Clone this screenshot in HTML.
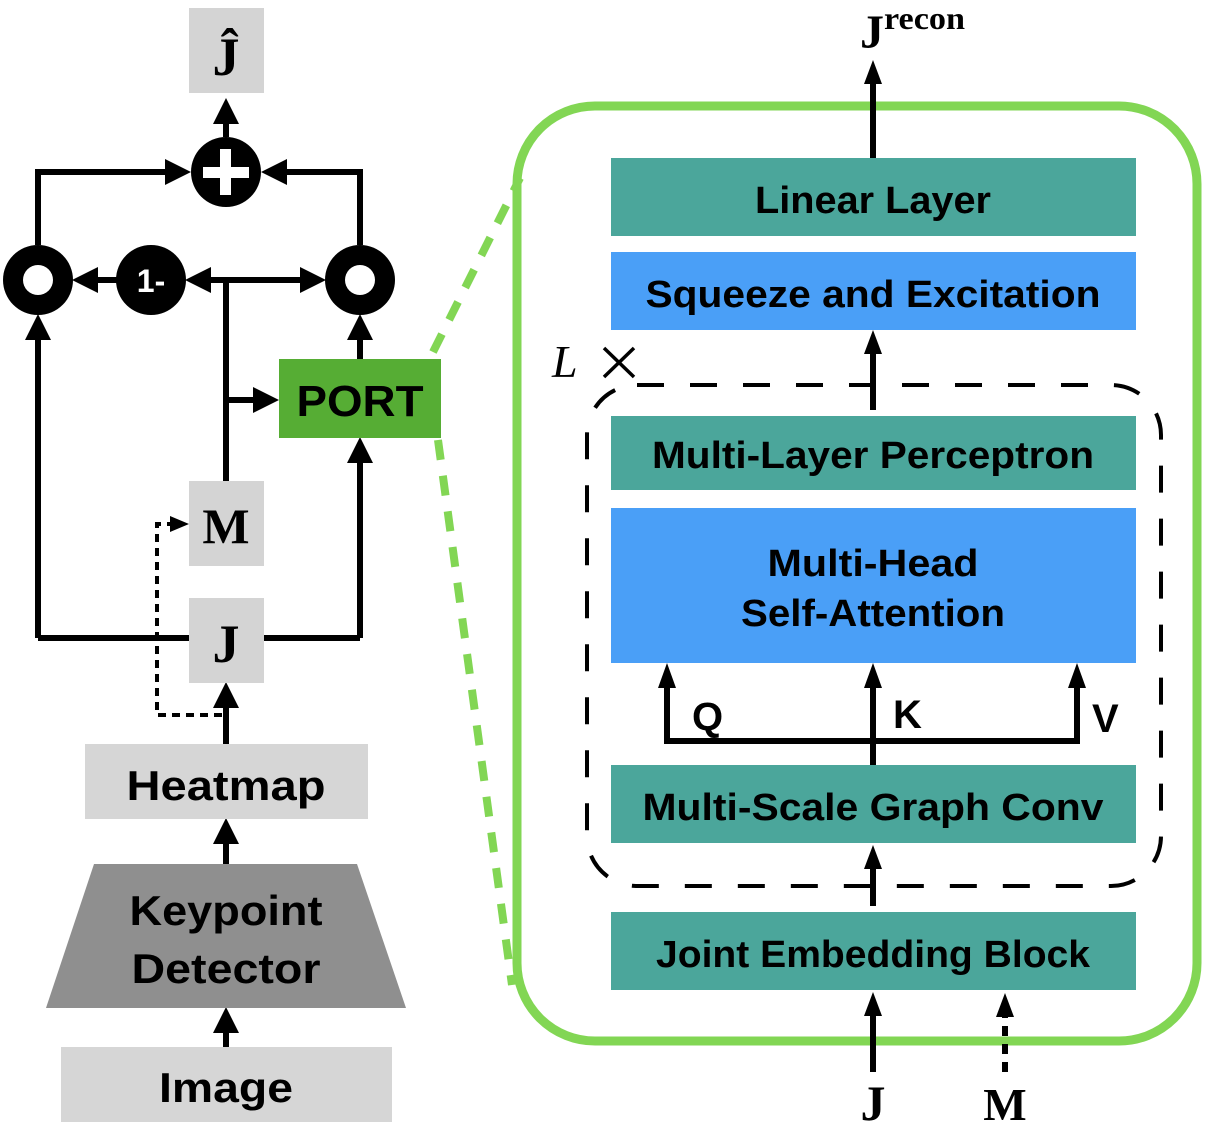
<!DOCTYPE html>
<html><head><meta charset="utf-8"><style>html,body{margin:0;padding:0;background:#fff}svg{display:block}</style></head>
<body>
<svg width="1208" height="1128" viewBox="0 0 1208 1128" xmlns="http://www.w3.org/2000/svg" font-family="Liberation Sans, sans-serif" font-weight="bold">
<!-- Left side -->
<rect x="189" y="8" width="75" height="85" fill="#d4d4d4"/>
<text x="226" y="75" font-family="Liberation Serif, serif" font-size="54" text-anchor="middle">Ĵ</text>
<g stroke="#000" stroke-width="6" fill="none">
<line x1="226" y1="137" x2="226" y2="118"/>
<polyline points="38,245 38,172 168,172"/>
<polyline points="360,245 360,172 284,172"/>
<line x1="117" y1="280" x2="95" y2="280"/>
<line x1="226" y1="280" x2="204" y2="280"/>
<line x1="226" y1="280" x2="305" y2="280"/>
<line x1="226" y1="280" x2="226" y2="481"/>
<line x1="226" y1="400" x2="258" y2="400"/>
<line x1="360" y1="359" x2="360" y2="335"/>
<line x1="38" y1="638" x2="38" y2="335"/>
<line x1="38" y1="638" x2="189" y2="638"/>
<line x1="264" y1="638" x2="360" y2="638"/>
<line x1="360" y1="638" x2="360" y2="458"/>
<line x1="226" y1="744" x2="226" y2="703"/>
<line x1="226" y1="864" x2="226" y2="840"/>
<line x1="226" y1="1047" x2="226" y2="1028"/>
</g>
<g fill="#000">
<polygon points="226,98 213,124 239,124"/>
<polygon points="191,172 165,159 165,185"/>
<polygon points="261,172 287,159 287,185"/>
<polygon points="72,280 98,267 98,293"/>
<polygon points="185,280 211,267 211,293"/>
<polygon points="326,280 300,267 300,293"/>
<polygon points="279,400 253,387 253,413"/>
<polygon points="360,314 347,340 373,340"/>
<polygon points="38,314 25,340 51,340"/>
<polygon points="360,437 347,463 373,463"/>
<polygon points="226,682 213,708 239,708"/>
<polygon points="226,818 213,844 239,844"/>
<polygon points="226,1007 213,1033 239,1033"/>
</g>
<circle cx="226" cy="172" r="35" fill="#000"/>
<rect x="203" y="167" width="46" height="11" fill="#fff"/>
<rect x="220" y="149" width="11" height="46" fill="#fff"/>
<circle cx="38" cy="280" r="35" fill="#000"/><circle cx="38" cy="280" r="15" fill="#fff"/>
<circle cx="360" cy="280" r="35" fill="#000"/><circle cx="360" cy="280" r="15" fill="#fff"/>
<circle cx="151" cy="280" r="35" fill="#000"/>
<text x="151" y="292" font-size="32" fill="#fff" text-anchor="middle">1-</text>
<rect x="279" y="359" width="162" height="79" fill="#56ad34"/>
<text x="360" y="416" font-size="44" text-anchor="middle" textLength="127" lengthAdjust="spacingAndGlyphs">PORT</text>
<rect x="189" y="481" width="75" height="85" fill="#d4d4d4"/>
<text x="226" y="543" font-family="Liberation Serif, serif" font-size="50" text-anchor="middle">M</text>
<rect x="189" y="598" width="75" height="85" fill="#d4d4d4"/>
<text x="226" y="662" font-family="Liberation Serif, serif" font-size="54" text-anchor="middle">J</text>
<polyline points="222,715 157,715 157,524 172,524" fill="none" stroke="#000" stroke-width="4" stroke-dasharray="8,6"/>
<polygon points="189,524 170,516 170,532" fill="#000"/>
<rect x="85" y="744" width="283" height="75" fill="#d6d6d6"/>
<text x="226" y="800" font-size="42" text-anchor="middle" textLength="199" lengthAdjust="spacingAndGlyphs">Heatmap</text>
<polygon points="94,864 357,864 406,1008 46,1008" fill="#8f8f8f"/>
<text x="226" y="925" font-size="42" text-anchor="middle" textLength="193" lengthAdjust="spacingAndGlyphs">Keypoint</text>
<text x="226" y="983" font-size="42" text-anchor="middle" textLength="189" lengthAdjust="spacingAndGlyphs">Detector</text>
<rect x="61" y="1047" width="331" height="75" fill="#d6d6d6"/>
<text x="226" y="1102" font-size="42" text-anchor="middle" textLength="134" lengthAdjust="spacingAndGlyphs">Image</text>
<!-- green dashed connectors -->
<line x1="433" y1="352" x2="520" y2="178" stroke="#82d654" stroke-width="8" stroke-dasharray="20,16"/>
<line x1="438" y1="440" x2="512" y2="985" stroke="#82d654" stroke-width="8" stroke-dasharray="20,16"/>
<!-- Right side -->
<rect x="517" y="106" width="680" height="935" rx="78" ry="78" fill="none" stroke="#82d654" stroke-width="9"/>
<rect x="611" y="158" width="525" height="78" fill="#4ba69b"/>
<text x="873" y="213" font-size="38" text-anchor="middle" textLength="236" lengthAdjust="spacingAndGlyphs">Linear Layer</text>
<rect x="611" y="252" width="525" height="78" fill="#4a9ff7"/>
<text x="873" y="307" font-size="38" text-anchor="middle" textLength="455" lengthAdjust="spacingAndGlyphs">Squeeze and Excitation</text>
<rect x="611" y="416" width="525" height="74" fill="#4ba69b"/>
<text x="873" y="468" font-size="38" text-anchor="middle" textLength="442" lengthAdjust="spacingAndGlyphs">Multi-Layer Perceptron</text>
<rect x="611" y="508" width="525" height="155" fill="#4a9ff7"/>
<text x="873" y="576" font-size="38" text-anchor="middle" textLength="211" lengthAdjust="spacingAndGlyphs">Multi-Head</text>
<text x="873" y="626" font-size="38" text-anchor="middle" textLength="264" lengthAdjust="spacingAndGlyphs">Self-Attention</text>
<rect x="611" y="765" width="525" height="78" fill="#4ba69b"/>
<text x="873" y="820" font-size="38" text-anchor="middle" textLength="461" lengthAdjust="spacingAndGlyphs">Multi-Scale Graph Conv</text>
<rect x="611" y="912" width="525" height="78" fill="#4ba69b"/>
<text x="873" y="967" font-size="38" text-anchor="middle" textLength="434" lengthAdjust="spacingAndGlyphs">Joint Embedding Block</text>
<rect x="587" y="385" width="574" height="501" rx="50" ry="50" fill="none" stroke="#000" stroke-width="4" stroke-dasharray="27,26"/>
<text x="552" y="377" font-family="Liberation Serif, serif" font-style="italic" font-weight="normal" font-size="46">L</text>
<g stroke="#000" stroke-width="3.5"><line x1="604" y1="348" x2="634" y2="377"/><line x1="634" y1="348" x2="604" y2="377"/></g>
<g stroke="#000" stroke-width="6" fill="none">
<line x1="873" y1="158" x2="873" y2="80"/>
<line x1="873" y1="410" x2="873" y2="350"/>
<polyline points="667,685 667,741 1077,741 1077,685"/>
<line x1="873" y1="765" x2="873" y2="685"/>
<line x1="873" y1="906" x2="873" y2="865"/>
<line x1="873" y1="1072" x2="873" y2="1012"/>
<line x1="1005" y1="1072" x2="1005" y2="1015" stroke-dasharray="10,8"/>
</g>
<g fill="#000">
<polygon points="873,60 864,84 882,84"/>
<polygon points="873,330 864,354 882,354"/>
<polygon points="667,663 658,688 676,688"/>
<polygon points="873,663 864,688 882,688"/>
<polygon points="1077,663 1068,688 1086,688"/>
<polygon points="873,845 864,869 882,869"/>
<polygon points="873,992 864,1016 882,1016"/>
<polygon points="1005,993 996,1017 1014,1017"/>
</g>
<text x="692" y="730" font-size="40">Q</text>
<text x="893" y="728" font-size="40">K</text>
<text x="1092" y="732" font-size="40">V</text>
<text x="860" y="48" font-family="Liberation Serif, serif" font-size="48">J</text>
<text x="884" y="29" font-family="Liberation Serif, serif" font-size="32" textLength="81" lengthAdjust="spacingAndGlyphs">recon</text>
<text x="873" y="1120" font-family="Liberation Serif, serif" font-size="50" text-anchor="middle">J</text>
<text x="1005" y="1120" font-family="Liberation Serif, serif" font-size="46" text-anchor="middle">M</text>
</svg>
</body></html>
